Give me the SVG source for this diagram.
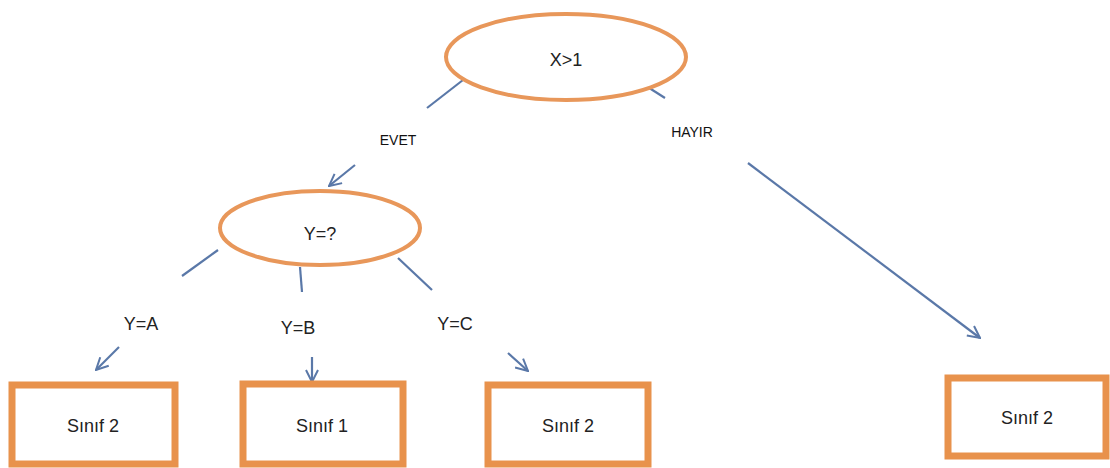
<svg xmlns="http://www.w3.org/2000/svg" width="1110" height="468" viewBox="0 0 1110 468">
<style>
.ell{fill:#fff;stroke:#E8975A;stroke-width:4}
.box{fill:#fff;stroke:#E8924C;stroke-width:7}
.ln{stroke:#5A78A8;stroke-width:2.2;fill:none}
.t{font-family:"Liberation Sans",Arial,sans-serif;font-size:18px;fill:#222;text-anchor:middle}
.lb{font-family:"Liberation Sans",Arial,sans-serif;font-size:14px;fill:#111;text-anchor:middle}
</style>
<defs>
<marker id="ah" viewBox="0 0 14 14" refX="13" refY="7" markerWidth="14" markerHeight="14" markerUnits="userSpaceOnUse" orient="auto">
<path d="M1,1 L13,7 L1,13" fill="none" stroke="#5A78A8" stroke-width="2"/>
</marker>
</defs>
<rect width="1110" height="468" fill="#fff"/>
<g id="connectors">
<line class="ln" x1="463" y1="80" x2="427" y2="108"/>
<line class="ln" x1="355" y1="165" x2="329" y2="186" marker-end="url(#ah)"/>
<line class="ln" x1="643" y1="84" x2="665" y2="98"/>
<line class="ln" x1="748" y1="163" x2="980" y2="338" marker-end="url(#ah)"/>
<line class="ln" x1="218" y1="250" x2="182" y2="276"/>
<line class="ln" x1="119" y1="347" x2="96" y2="370" marker-end="url(#ah)"/>
<line class="ln" x1="300" y1="267" x2="302" y2="292"/>
<line class="ln" x1="312" y1="357" x2="312" y2="382" marker-end="url(#ah)"/>
<line class="ln" x1="398" y1="258" x2="432" y2="290"/>
<line class="ln" x1="508" y1="353" x2="528" y2="371" marker-end="url(#ah)"/>
<text class="lb" x="398" y="145">EVET</text>
<text class="lb" x="692" y="137">HAYIR</text>
<text class="t" x="141" y="330">Y=A</text>
<text class="t" x="298" y="334">Y=B</text>
<text class="t" x="455" y="330">Y=C</text>
</g>
<g id="n-x">
<ellipse class="ell" cx="566" cy="57" rx="120" ry="43"/>
<text class="t" x="566" y="66">X&gt;1</text>
</g>
<g id="n-y">
<ellipse class="ell" cx="320" cy="228" rx="100" ry="37"/>
<text class="t" x="320" y="240">Y=?</text>
</g>
<g id="n-a">
<rect class="box" x="12" y="385" width="163" height="79"/>
<text class="t" x="93" y="432">Sınıf 2</text>
</g>
<g id="n-b">
<rect class="box" x="243" y="384" width="160" height="80"/>
<text class="t" x="322" y="432">Sınıf 1</text>
</g>
<g id="n-c">
<rect class="box" x="488" y="385" width="160" height="79"/>
<text class="t" x="568" y="432">Sınıf 2</text>
</g>
<g id="n-d">
<rect class="box" x="948" y="378" width="158" height="78"/>
<text class="t" x="1027" y="424">Sınıf 2</text>
</g>
</svg>
